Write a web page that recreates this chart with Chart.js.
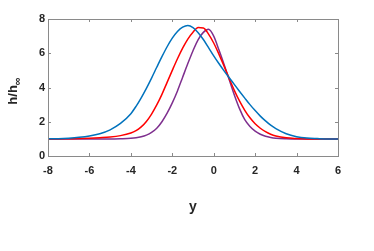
<!DOCTYPE html>
<html>
<head>
<meta charset="utf-8">
<script src="https://cdn.jsdelivr.net/npm/chart.js@4"></script>
<style>
  html, body { margin: 0; padding: 0; background: #fff; }
  #wrap { width: 374px; height: 251px; }
</style>
</head>
<body>
<div id="wrap"><canvas id="solitonChart" width="374" height="251"></canvas></div>
<script>
// positions along y, and h/h_inf for the three curves
const yPos = [-8, -7.5, -7, -6.5, -6, -5.5, -5, -4.5, -4,
    -3.75, -3.5, -3.25, -3, -2.75, -2.5, -2.25, -2, -1.75, -1.5, -1.25, -1, -0.75, -0.5, -0.25,
    0, 0.25, 0.5, 0.75, 1, 1.25, 1.5, 1.75, 2, 2.25, 2.5, 2.75, 3,
    3.5, 4, 4.5, 5, 5.5, 6];

const blueH = [1.0, 1.01, 1.04, 1.09, 1.17, 1.3, 1.53, 1.9, 2.47,
    2.9, 3.4, 3.95, 4.55, 5.18, 5.8, 6.38, 6.88, 7.27, 7.52, 7.62, 7.5, 7.2, 6.8, 6.33,
    5.85, 5.4, 4.97, 4.57, 4.17, 3.77, 3.38, 3.0, 2.65, 2.33, 2.05, 1.8, 1.6,
    1.3, 1.13, 1.05, 1.02, 1.0, 1.0];

const redH = [1.0, 1.0, 1.01, 1.02, 1.04, 1.07, 1.11, 1.19, 1.34,
    1.48, 1.7, 2.02, 2.45, 2.98, 3.6, 4.3, 5.0, 5.68, 6.3, 6.83, 7.23, 7.5, 7.48, 7.12,
    6.6, 5.95, 5.25, 4.52, 3.82, 3.2, 2.67, 2.23, 1.88, 1.62, 1.42, 1.27, 1.17,
    1.06, 1.02, 1.0, 1.0, 1.0, 1.0];

const purpleH = [1.0, 1.0, 1.0, 1.0, 1.0, 1.0, 1.0, 1.01, 1.03,
    1.06, 1.12, 1.22, 1.38, 1.62, 2.0, 2.5, 3.1, 3.8, 4.6, 5.4, 6.15, 6.8, 7.22, 7.4,
    7.0, 6.2, 5.35, 4.45, 3.55, 2.75, 2.12, 1.72, 1.45, 1.27, 1.15, 1.08, 1.04,
    1.01, 1.0, 1.0, 1.0, 1.0, 1.0];

const xTicks = [-8, -6, -4, -2, 0, 2, 4, 6];
const yTicks = [0, 2, 4, 6, 8];

function toPoints(vals) {
    return yPos.map((x, i) => ({ x: x, y: vals[i] }));
}

// box round the plot with inward ticks, and the two axis titles
const boxPlugin = {
    id: "boxPlugin",
    afterDraw(chart) {
        const c = chart.ctx;
        const a = chart.chartArea;
        const sx = chart.scales.x;
        const sy = chart.scales.y;
        c.save();
        c.strokeStyle = "#8a8a8a";
        c.lineWidth = 1;
        c.strokeRect(a.left + 0.5, a.top + 0.5, a.right - a.left, a.bottom - a.top);
        c.beginPath();
        xTicks.forEach(v => {
            const px = Math.round(sx.getPixelForValue(v)) + 0.5;
            c.moveTo(px, a.bottom); c.lineTo(px, a.bottom - 3);
            c.moveTo(px, a.top); c.lineTo(px, a.top + 3);
        });
        yTicks.forEach(v => {
            const py = Math.round(sy.getPixelForValue(v)) + 0.5;
            c.moveTo(a.left, py); c.lineTo(a.left + 3, py);
            c.moveTo(a.right, py); c.lineTo(a.right - 3, py);
        });
        c.stroke();

        // x title
        c.fillStyle = "#262626";
        c.font = "bold 14px 'Liberation Sans', Arial, sans-serif";
        c.textAlign = "center";
        c.textBaseline = "alphabetic";
        c.fillText("y", (a.left + a.right) / 2, 211);

        // y title, h/h with subscript infinity
        c.translate(17, 91);
        c.rotate(-Math.PI / 2);
        c.font = "bold 13px 'Liberation Sans', Arial, sans-serif";
        const w1 = c.measureText("h/h").width;
        c.font = "bold 11px 'Liberation Sans', Arial, sans-serif";
        const w2 = c.measureText("\u221E").width;
        const start = -(w1 + w2) / 2;
        c.textAlign = "left";
        c.font = "bold 13px 'Liberation Sans', Arial, sans-serif";
        c.fillText("h/h", start, 0);
        c.font = "bold 11px 'Liberation Sans', Arial, sans-serif";
        c.fillText("\u221E", start + w1, 4);
        c.restore();
    }
};

let ctx = document.getElementById("solitonChart").getContext("2d");

let solitonChart = new Chart(ctx, {
    type: "line",
    data: {
        datasets: [
            { data: toPoints(blueH), borderColor: "#0072BD" },
            { data: toPoints(redH), borderColor: "#FF0000" },
            { data: toPoints(purpleH), borderColor: "#7E2F8E" }
        ]
    },
    options: {
        responsive: false,
        animation: false,
        layout: { padding: { top: 19, right: 36, left: 0, bottom: 0 } },
        elements: {
            line: { borderWidth: 1.5, cubicInterpolationMode: "monotone", fill: false },
            point: { radius: 0 }
        },
        plugins: {
            legend: { display: false },
            tooltip: { enabled: false }
        },
        scales: {
            x: {
                type: "linear",
                min: -8,
                max: 6,
                afterBuildTicks: s => { s.ticks = xTicks.map(v => ({ value: v })); },
                afterFit: s => { s.height = 95; },
                grid: { display: false, drawTicks: false },
                border: { display: false },
                ticks: {
                    padding: 8,
                    color: "#262626",
                    font: { family: "'Liberation Sans', Arial, sans-serif", size: 11, weight: "bold" }
                }
            },
            y: {
                min: 0,
                max: 8,
                afterBuildTicks: s => { s.ticks = yTicks.map(v => ({ value: v })); },
                afterFit: s => { s.width = 48; },
                grid: { display: false, drawTicks: false },
                border: { display: false },
                ticks: {
                    padding: 3,
                    color: "#262626",
                    font: { family: "'Liberation Sans', Arial, sans-serif", size: 11, weight: "bold" }
                }
            }
        }
    },
    plugins: [boxPlugin]
});
</script>
</body>
</html>
